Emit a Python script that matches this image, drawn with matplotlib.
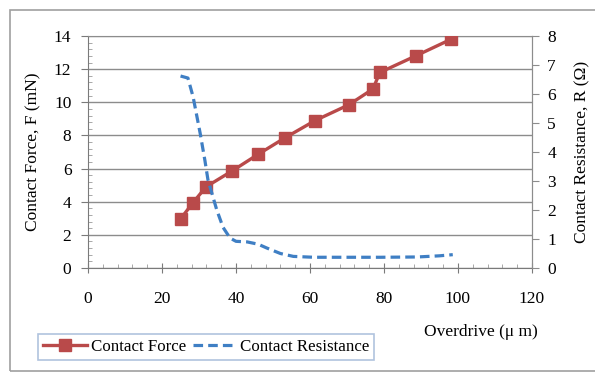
import numpy as np
import matplotlib
matplotlib.use("Agg")
import matplotlib.pyplot as plt
from matplotlib.ticker import MultipleLocator
from matplotlib.patches import Rectangle

# contact force vs overdrive (markers)
od_force = [25, 28.4, 31.9, 38.9, 45.9, 53.2, 61.4, 70.5, 77.0, 78.9, 88.6, 98.1]
force = [2.96, 3.95, 4.9, 5.85, 6.85, 7.85, 8.9, 9.85, 10.8, 11.8, 12.8, 13.8]

# contact resistance vs overdrive (dashed curve)
od_res = [25, 27, 28.4, 30.3, 31.6, 32.4, 34.8, 36.5, 38.4, 40, 43, 46, 48.3, 52, 55.5,
          61, 71, 79, 89, 95, 98.6]
res = [6.62, 6.55, 5.9, 4.65, 3.7, 3.05, 2.0, 1.4, 1.03, 0.92, 0.9, 0.82, 0.69, 0.5, 0.4,
       0.37, 0.37, 0.37, 0.38, 0.42, 0.46]

plt.rcParams['font.family'] = ['Liberation Serif', 'DejaVu Serif']
plt.rcParams['font.size'] = 12.5

red = "#b94a4a"
blue = "#3f7fc4"
grey = "#8c8c8c"

fig = plt.figure(figsize=(5.95, 3.73), dpi=100)
ax = fig.add_axes([0.148, 0.2815, 0.746, 0.622])
fig.patches.append(Rectangle((10/595, 2/373), 1.0, 361/373, transform=fig.transFigure,
                             fill=False, ec="#a0a0a0", lw=1.2))

ax.set_xlim(0, 120)
ax.set_ylim(0, 14)
ax.yaxis.set_major_locator(MultipleLocator(2))
ax.yaxis.set_minor_locator(MultipleLocator(0.4))
ax.xaxis.set_major_locator(MultipleLocator(20))
ax.xaxis.set_minor_locator(MultipleLocator(4))
ax.grid(axis="y", color=grey, lw=1.0)
ax.set_axisbelow(True)
for s in ["top", "right"]:
    ax.spines[s].set_color(grey)
for s in ["left", "bottom"]:
    ax.spines[s].set_color("#7a7a7a")
ax.tick_params(axis="y", which="major", direction="out", length=5, color="#7a7a7a", pad=7)
ax.tick_params(axis="y", which="minor", direction="in", length=3, color="#9a9a9a")
ax.tick_params(axis="x", which="major", direction="inout", length=7, color="#7a7a7a", pad=13)
ax.tick_params(axis="x", which="minor", direction="in", length=3, color="#9a9a9a")
ax.set_ylabel("Contact Force, F (mN)", labelpad=9)

l1, = ax.plot(od_force, force, "-s", color=red, lw=2.4, ms=9, mfc=red, mec=red,
              label="Contact Force", zorder=4)

ax2 = ax.twinx()
ax2.set_ylim(0, 8)
ax2.yaxis.set_major_locator(MultipleLocator(1))
for s in ax2.spines.values():
    s.set_visible(False)
ax2.spines["right"].set_visible(True)
ax2.spines["right"].set_color(grey)
ax2.tick_params(axis="y", direction="out", length=5, color=grey, pad=6)
ax2.set_ylabel("Contact Resistance, R (Ω)", labelpad=13)
l2, = ax2.plot(od_res, res, "--", color=blue, lw=2.3, label="Contact Resistance",
               dashes=(3, 1.6), zorder=3)

fig.text(538/595, 1 - 332/373, "Overdrive (μ m)", ha="right", va="center", fontsize=12.5)

leg = fig.legend(handles=[l1, l2], loc="center left", bbox_to_anchor=(38/595, 1 - 347/373),
                 ncol=2, frameon=True, fancybox=False, handlelength=2.6, handletextpad=0.2,
                 columnspacing=0.4, borderpad=0.3, borderaxespad=0, fontsize=12.2)
leg.get_frame().set_edgecolor("#9db4d6")
leg.get_frame().set_linewidth(1.2)

fig.savefig("out.png", dpi=100)
